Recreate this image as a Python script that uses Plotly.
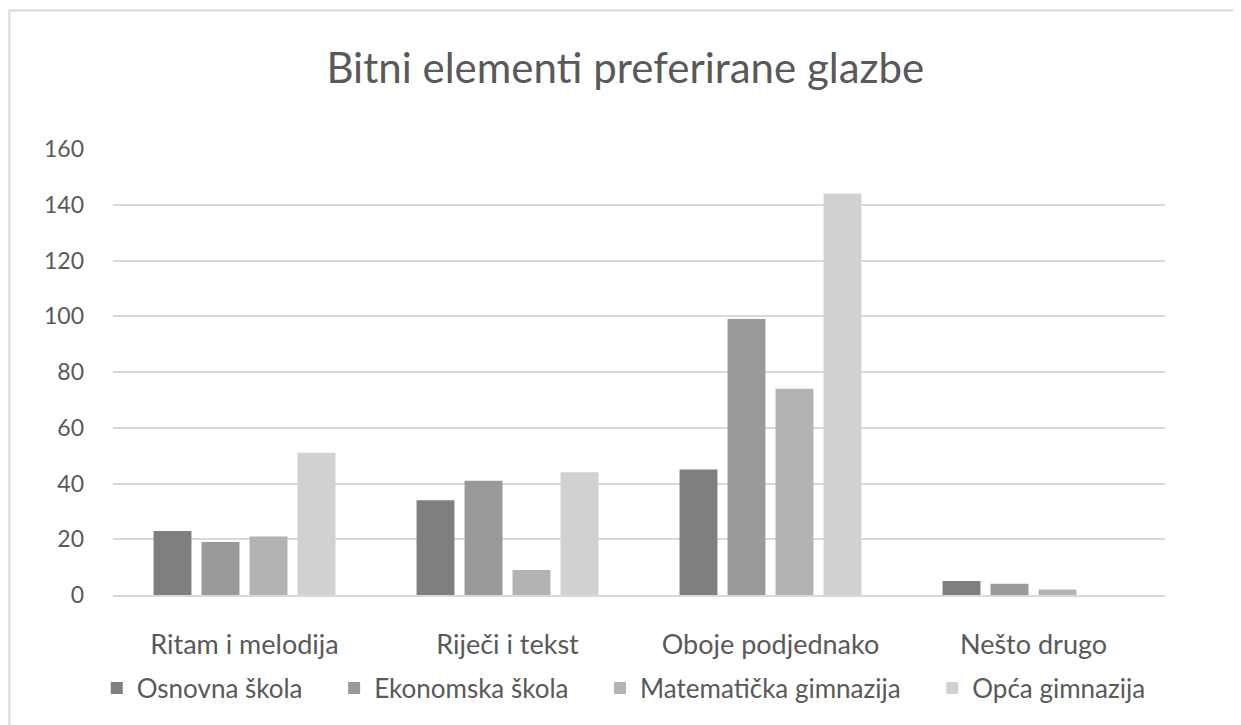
import plotly.graph_objects as go

categories = ['Ritam i melodija', 'Riječi i tekst', 'Oboje podjednako', 'Nešto drugo']
series_names = ['Osnovna škola', 'Ekonomska škola', 'Matematička gimnazija', 'Opća gimnazija']
osnovna = [23, 34, 45, 5]
ekonomska = [19, 41, 99, 4]
matematicka = [21, 9, 74, 2]
opca = [51, 44, 144, 0]
colors = ['#7f7f7f', '#999999', '#b3b3b3', '#d1d1d1']

FONT = 'Lato, Open Sans, sans-serif'
TXT = '#595959'
PAD = '\u00a0' * 4  # veći razmak između stavki legende

fig = go.Figure()
for i, (name, vals, col) in enumerate(zip(series_names, [osnovna, ekonomska, matematicka, opca], colors)):
    label = name + (PAD if i < len(series_names) - 1 else '')
    fig.add_trace(go.Bar(
        x=categories, y=vals, name=label,
        marker=dict(color=col, line=dict(width=0)),
    ))

# okvir oko grafa
fig.add_shape(type='rect', xref='paper', yref='paper',
              x0=-0.0985, x1=1.0705, y0=-0.33, y1=1.3105,
              line=dict(color='#d9d9d9', width=2), fillcolor='rgba(0,0,0,0)', layer='below')

# stranica ima 8px ruba, pa su margine pomaknute
fig.update_layout(
    width=1241, height=725,
    margin=dict(l=105, r=84, t=141, b=138),
    paper_bgcolor='white', plot_bgcolor='white',
    font=dict(family=FONT, color=TXT),
    title=dict(text='Bitni elementi preferirane glazbe', x=0.487, xref='paper', xanchor='center',
               y=(725 - 60) / 725, yanchor='middle', font=dict(size=42, color=TXT, family=FONT)),
    barmode='group', bargap=0.27, bargroupgap=0.21,
    showlegend=True,
    legend=dict(orientation='h', x=0.4855, xanchor='center', y=-0.2085, yanchor='middle',
                font=dict(size=26, color=TXT, family=FONT), itemwidth=30,
                traceorder='normal'),
)
fig.update_yaxes(range=[0, 160], dtick=20, showgrid=True, gridcolor='#d9d9d9', gridwidth=1.5,
                 zeroline=False, showline=False, ticks='', ticklabelstandoff=28,
                 tickfont=dict(size=23, color=TXT, family=FONT))
fig.update_xaxes(showline=True, linecolor='#d9d9d9', linewidth=2, ticks='', showgrid=False,
                 ticklabelstandoff=25, tickfont=dict(size=27, color=TXT, family=FONT))

fig.write_html('out.html')
